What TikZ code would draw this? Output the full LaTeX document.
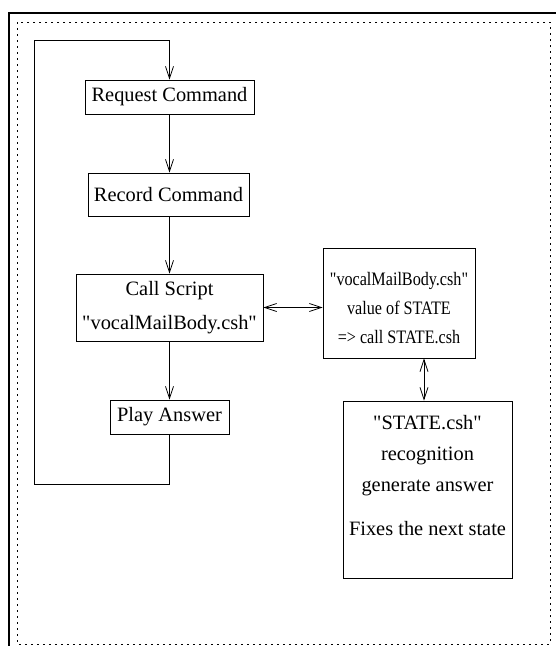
\documentclass[tikz,border=0pt]{standalone}
\usepackage{fontspec}
\usepackage{graphicx}
\setmainfont{Liberation Serif}[Ligatures=TeXOff]
\usetikzlibrary{arrows.meta}
\newcommand{\narrow}[1]{\scalebox{0.85}[1]{#1}}
\begin{document}
\begin{tikzpicture}[x=1pt,y=-1pt,
  font=\fontsize{20.4}{31}\selectfont,
  box/.style={draw, line width=0.8pt, inner sep=0pt, align=center},
  link/.style={line width=0.8pt},
  arr/.style={link, -{Straight Barb[length=12pt,width=8pt,line width=0.8pt]}},
  dbl/.style={link, {Straight Barb[length=12pt,width=8pt,line width=0.8pt]}-{Straight Barb[length=12pt,width=8pt,line width=0.8pt]}}]
\useasboundingbox (0,0) rectangle (556,646);

% page frames
\draw[line width=1.8pt] (9,660) -- (9,13) -- (570,13);
\draw[line width=0.9pt, dash pattern=on 1.6pt off 4.4pt] (17,22) rectangle (550,644);

% main loop boxes
\node[box, minimum width=169pt, minimum height=34pt] (req) at (169.5,97) {Request Command};
\node[box, minimum width=161pt, minimum height=43pt] (rec) at (168.5,194.5) {Record Command};
\node[box, minimum width=187pt, minimum height=67pt] (call) at (169.5,307.5) {Call Script\\[3pt]"vocalMailBody.csh"};
\node[box, minimum width=119pt, minimum height=34pt] (play) at (169.5,417) {Play Answer};

% script boxes (text in the upper box is set slightly condensed)
\node[box, minimum width=152pt, minimum height=110pt] (vmb) at (399,303) {};
\node[align=center, inner sep=0pt, font=\fontsize{19}{29}\selectfont] (vmbtxt) at ([yshift=-5pt]vmb.center)
  {\narrow{"vocalMailBody.csh"}\\\narrow{value of STATE}\\\narrow{=> call STATE.csh}};
\node[box, minimum width=169pt, minimum height=177pt] (state) at (427.5,489.5) {};
\node[align=center, anchor=north, inner sep=0pt] (statetxt) at ([yshift=-15pt]state.north) {"STATE.csh"\\recognition\\generate answer\\[13pt]Fixes the next state};

% connectors
\coordinate (loopbl) at (34,484);
\coordinate (looptl) at (34,40);
\draw[arr] (req.south) -- (req.south |- rec.north);
\draw[arr] (req.south |- rec.south) -- (req.south |- call.north);
\draw[arr] (call.south) -- (play.north);
\draw[arr] (play.south) |- (loopbl) -- (looptl) -| (req.north);
\draw[dbl] (call.east) -- (vmb.west |- call.east);
\draw[dbl] ([xshift=25pt]vmb.south) -- ([xshift=25pt]vmb.south |- state.north);
\end{tikzpicture}
\end{document}
